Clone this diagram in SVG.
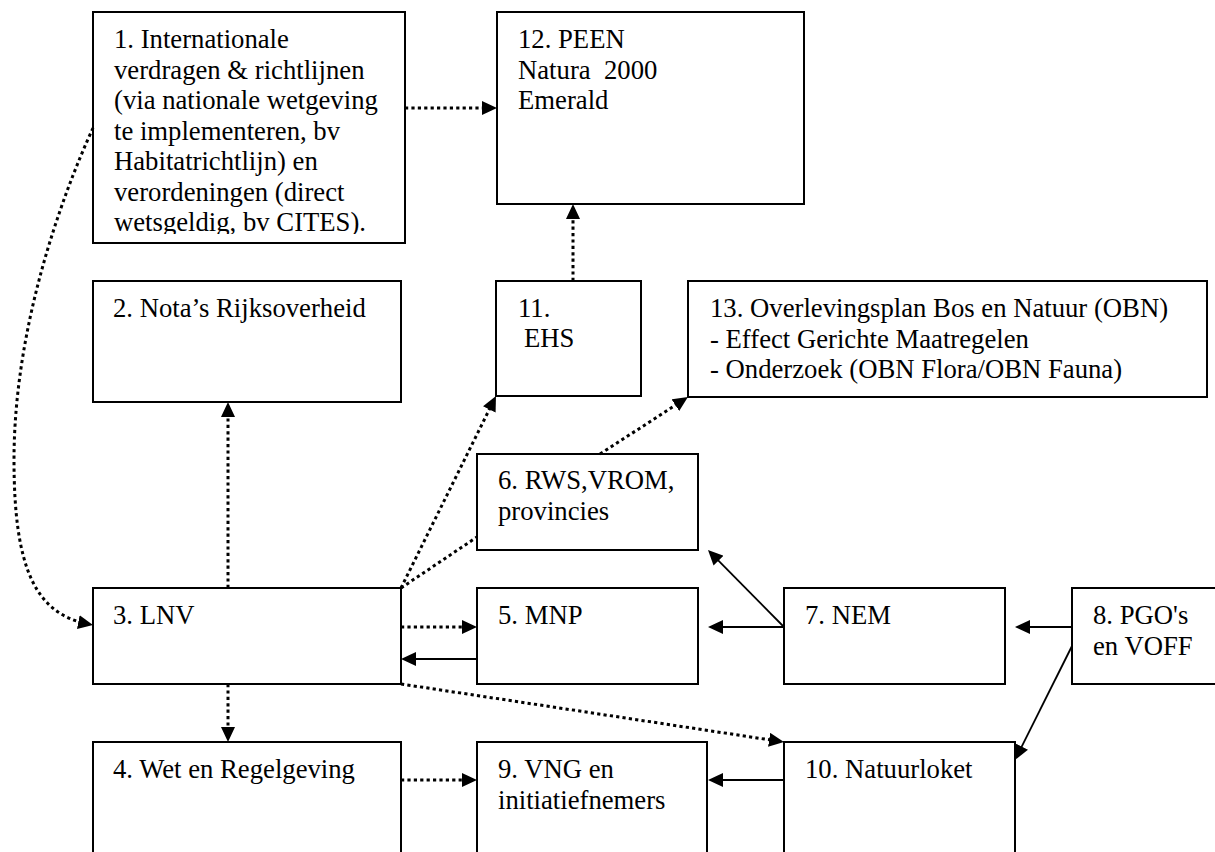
<svg xmlns="http://www.w3.org/2000/svg" width="1215" height="852" viewBox="0 0 1215 852">
<style>
  .box { fill: #fff; stroke: #000; stroke-width: 2; }
  .lbl { font-family: "Liberation Serif", "Times New Roman", serif; font-size: 26.7px; fill: #000; }
  .dot { fill: none; stroke: #000; stroke-width: 3; stroke-dasharray: 3.2 3.2; }
  .sol { fill: none; stroke: #000; stroke-width: 1.8; }
  .arr { marker-end: url(#ah); }
</style>
<defs>
  <marker id="ah" viewBox="0 0 15 14" markerWidth="15" markerHeight="14" refX="11" refY="7" orient="auto" markerUnits="userSpaceOnUse">
    <path d="M0,0 L15,7 L0,14 Z" fill="#000"/>
  </marker>
  <clipPath id="clip1"><rect x="93" y="12" width="312" height="222"/></clipPath>
</defs>
<rect width="1215" height="852" fill="#fff"/>

<g id="n1">
  <rect class="box" x="93" y="12" width="312" height="231"/>
  <text class="lbl" x="114" y="48" clip-path="url(#clip1)">
    <tspan x="114" y="48">1. Internationale</tspan>
    <tspan x="114" y="78.5">verdragen &amp; richtlijnen</tspan>
    <tspan x="114" y="109">(via nationale wetgeving</tspan>
    <tspan x="114" y="139.5">te implementeren, bv</tspan>
    <tspan x="114" y="170">Habitatrichtlijn) en</tspan>
    <tspan x="114" y="200.5">verordeningen (direct</tspan>
    <tspan x="114" y="231">wetsgeldig, bv CITES).</tspan>
  </text>
</g>
<g id="n12">
  <rect class="box" x="497" y="12" width="307" height="192"/>
  <text class="lbl" xml:space="preserve"><tspan x="518" y="48">12. PEEN</tspan><tspan x="518" y="78.5">Natura  2000</tspan><tspan x="518" y="109">Emerald</tspan></text>
</g>
<g id="n2">
  <rect class="box" x="93" y="281" width="308" height="121"/>
  <text class="lbl" x="113" y="317">2. Nota’s Rijksoverheid</text>
</g>
<g id="n11">
  <rect class="box" x="496" y="281" width="145" height="115"/>
  <text class="lbl"><tspan x="518" y="317">11.</tspan><tspan x="524" y="347">EHS</tspan></text>
</g>
<g id="n13">
  <rect class="box" x="688" y="281" width="519" height="116"/>
  <text class="lbl"><tspan x="710" y="317">13. Overlevingsplan Bos en Natuur (OBN)</tspan><tspan x="710" y="347.5">- Effect Gerichte Maatregelen</tspan><tspan x="710" y="378">- Onderzoek (OBN Flora/OBN Fauna)</tspan></text>
</g>
<g id="n6">
  <rect class="box" x="477" y="454" width="221" height="96"/>
  <text class="lbl"><tspan x="498" y="489">6. RWS,VROM,</tspan><tspan x="498" y="519.5">provincies</tspan></text>
</g>
<g id="n3">
  <rect class="box" x="93" y="588" width="308" height="96"/>
  <text class="lbl" x="113" y="624">3. LNV</text>
</g>
<g id="n5">
  <rect class="box" x="477" y="588" width="221" height="96"/>
  <text class="lbl" x="498" y="624">5. MNP</text>
</g>
<g id="n7">
  <rect class="box" x="784" y="588" width="221" height="96"/>
  <text class="lbl" x="805" y="624">7. NEM</text>
</g>
<g id="n8">
  <rect class="box" x="1072" y="588" width="160" height="96"/>
  <text class="lbl"><tspan x="1093" y="624">8. PGO's</tspan><tspan x="1093" y="654.5">en VOFF</tspan></text>
</g>
<g id="n4">
  <rect class="box" x="93" y="742" width="308" height="130"/>
  <text class="lbl" x="113" y="778">4. Wet en Regelgeving</text>
</g>
<g id="n9">
  <rect class="box" x="477" y="742" width="230" height="130"/>
  <text class="lbl"><tspan x="498" y="778">9. VNG en</tspan><tspan x="498" y="808.5">initiatiefnemers</tspan></text>
</g>
<g id="n10">
  <rect class="box" x="784" y="742" width="231" height="130"/>
  <text class="lbl" x="805" y="778">10. Natuurloket</text>
</g>

<g id="connectors">
  <path class="dot arr" d="M405,108 L493,108"/>
  <path class="dot arr" d="M573,281 L573,208"/>
  <path class="dot arr" d="M93,128 C60,200 14,330 14,460 C14,570 36,614 89.1,624.3"/>
  <path class="dot arr" d="M228,588 L228,406"/>
  <path class="dot arr" d="M228,684 L228,738"/>
  <path class="dot arr" d="M401,588 L494.2,399.6"/>
  <path class="dot" d="M401,588 L477,537"/>
  <path class="dot arr" d="M600,454 L684.6,399.2"/>
  <path class="dot arr" d="M401,627 L473,627"/>
  <path class="dot arr" d="M401,684 L780,741.4"/>
  <path class="dot arr" d="M401,780 L473,780"/>
  <path class="sol arr" d="M477,659 L405,659"/>
  <path class="sol arr" d="M784,627 L712,627"/>
  <path class="sol arr" d="M784,627 L710.8,552.8"/>
  <path class="sol arr" d="M1072,627 L1019,627"/>
  <path class="sol arr" d="M1072,646 L1016.8,756.4"/>
  <path class="sol arr" d="M784,780 L712,780"/>
</g>
</svg>
